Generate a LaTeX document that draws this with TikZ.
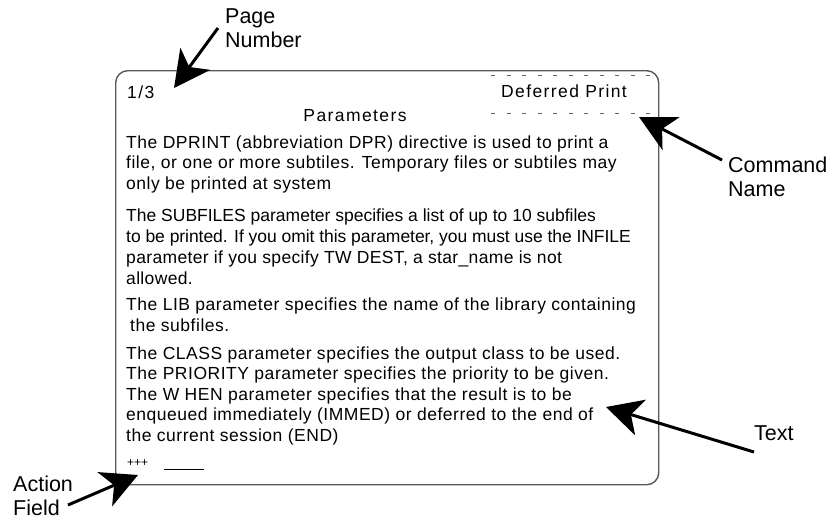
\documentclass[tikz,border=0pt]{standalone}
\usepackage{fontspec}
\setmainfont{Liberation Sans}
\usetikzlibrary{arrows.meta}
\begin{document}
\begin{tikzpicture}[x=1pt,y=-1pt,
  body/.style={anchor=mid west,inner sep=0pt,font=\fontsize{17.5}{20}\selectfont\addfontfeature{LetterSpace=3}},
  bodyls/.style={anchor=mid west,inner sep=0pt,font=\fontsize{17.5}{20}\selectfont\addfontfeature{LetterSpace=#1}},
  head/.style={inner sep=0pt,font=\fontsize{17.5}{20}\selectfont\addfontfeature{LetterSpace=8}},
  lbl/.style={inner sep=0pt,align=left,font=\fontsize{21.5}{24}\selectfont},
  callout/.style={line width=3pt,-{Stealth[length=36pt,width=37pt,inset=10pt]}},
  frame/.style={draw=black!65,line width=1.4pt,rounded corners=12pt},
  dashline/.style={draw=black!60,line width=0.8pt,dash pattern=on 4pt off 11.5pt}]
\useasboundingbox (0,0) rectangle (832,522);
% frame
\node[frame,minimum width=543pt,minimum height=414pt,anchor=north west,inner sep=0pt] (screen) at (115,70) {};
% header
\node[head,anchor=mid west] (page) at (127,96) {1/3};
\node[head,anchor=mid] (title) at (355,119) {Parameters};
\node[head,anchor=mid] (cmd) at (564,95) {Deferred Print};
\coordinate (d1a) at (491,75); \coordinate (d1b) at (654,75);
\coordinate (d2a) at (491,113); \coordinate (d2b) at (654,113);
\draw[dashline] (d1a) -- (d1b);
\draw[dashline] (d2a) -- (d2b);
% body
\node[body] (l1) at (126,146) {The DPRINT (abbreviation DPR) directive is used to print a};
\node[body] (l2) at (126,166) {file, or one or more subtiles. Temporary files or subtiles may};
\node[body] (l3) at (126,187) {only be printed at system};
\node[bodyls=0] (l4) at (126,219) {The SUBFILES parameter specifies a list of up to 10 subfiles};
\node[bodyls=-0.3] (l5) at (126,240) {to be printed. If you omit this parameter, you must use the INFILE};
\node[bodyls=2] (l6) at (126,261) {parameter if you specify TW DEST, a star\_name is not};
\node[bodyls=2] (l7) at (126,282) {allowed.};
\node[body] (l8) at (126,308) {The LIB parameter specifies the name of the library containing};
\node[body] (l9) at (130,329) {the subfiles.};
\node[body] (l10) at (126,357) {The CLASS parameter specifies the output class to be used.};
\node[body] (l11) at (126,377) {The PRIORITY parameter specifies the priority to be given.};
\node[body] (l12) at (126,398) {The W HEN parameter specifies that the result is to be};
\node[body] (l13) at (126,418) {enqueued immediately (IMMED) or deferred to the end of};
\node[body] (l14) at (126,439) {the current session (END)};
\node[body,font=\fontsize{12}{12}\selectfont] (act) at (127,464) {+++};
\coordinate (ula) at (164,469); \coordinate (ulb) at (204,469);
\draw[line width=0.8pt] (ula) -- (ulb);
% labels
\node[lbl,anchor=mid west] (pn1) at (225,21) {Page};
\node[lbl,anchor=mid west] (pn2) at (225,45) {Number};
\node[lbl,anchor=mid west] (cn1) at (728,170) {Command};
\node[lbl,anchor=mid west] (cn2) at (728,194) {Name};
\node[lbl,anchor=mid west] (tx) at (754,438) {Text};
\node[lbl,anchor=mid west] (af1) at (13,489) {Action};
\node[lbl,anchor=mid west] (af2) at (13,513) {Field};
% arrows
\coordinate (pnt) at (218,28); \coordinate (pnh) at (174,88);
\coordinate (cnt) at (722,160); \coordinate (cnh) at (639,117);
\coordinate (txt) at (754,452); \coordinate (txh) at (606,407);
\coordinate (aft) at (68,505); \coordinate (afh) at (138,475);
\draw[callout] (pnt) -- (pnh);
\draw[callout] (cnt) -- (cnh);
\draw[callout] (txt) -- (txh);
\draw[callout] (aft) -- (afh);
\end{tikzpicture}
\end{document}
